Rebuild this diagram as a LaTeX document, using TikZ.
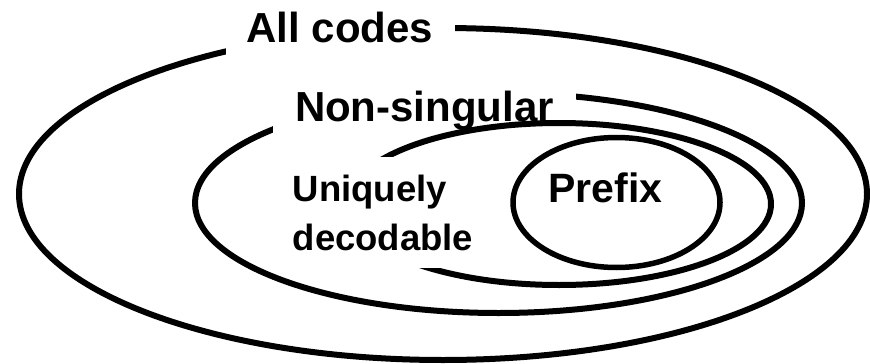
\documentclass[tikz,border=0pt]{standalone}
\usepackage{fontspec}
\setmainfont{Liberation Sans}
\tikzset{
    codeset/.style={line width=6pt},
    setlabel/.style={fill=white, inner sep=0pt, font=\bfseries\fontsize{42}{50}\selectfont},
}

\begin{document}
\begin{tikzpicture}[x=1pt,y=-1pt]
\useasboundingbox (0,0) rectangle (870,364);
\draw[codeset] (443,194) ellipse [x radius=424pt, y radius=166pt];
\node[setlabel, minimum width=229pt, minimum height=60pt] (allcodes) at (340,27) {All codes};
\draw[codeset] (498.5,203) ellipse [x radius=303.5pt, y radius=110pt];
\node[setlabel, minimum width=303pt, minimum height=70pt] (nonsingular) at (424.5,111) {Non-singular};
\draw[codeset] (559,204) ellipse [x radius=212pt, y radius=81pt];
\node[setlabel, minimum width=206pt, minimum height=111pt, align=left,
      font=\bfseries\fontsize{36.5}{49}\selectfont] (unique) at (383,212.5) {Uniquely\\decodable};
\draw[line width=5.5pt] (616.5,202.5) ellipse [x radius=103.5pt, y radius=65pt];
\node[font=\bfseries\fontsize{41}{49}\selectfont, inner sep=0pt] (prefix) at (605.5,188) {Prefix};
\end{tikzpicture}
\end{document}
